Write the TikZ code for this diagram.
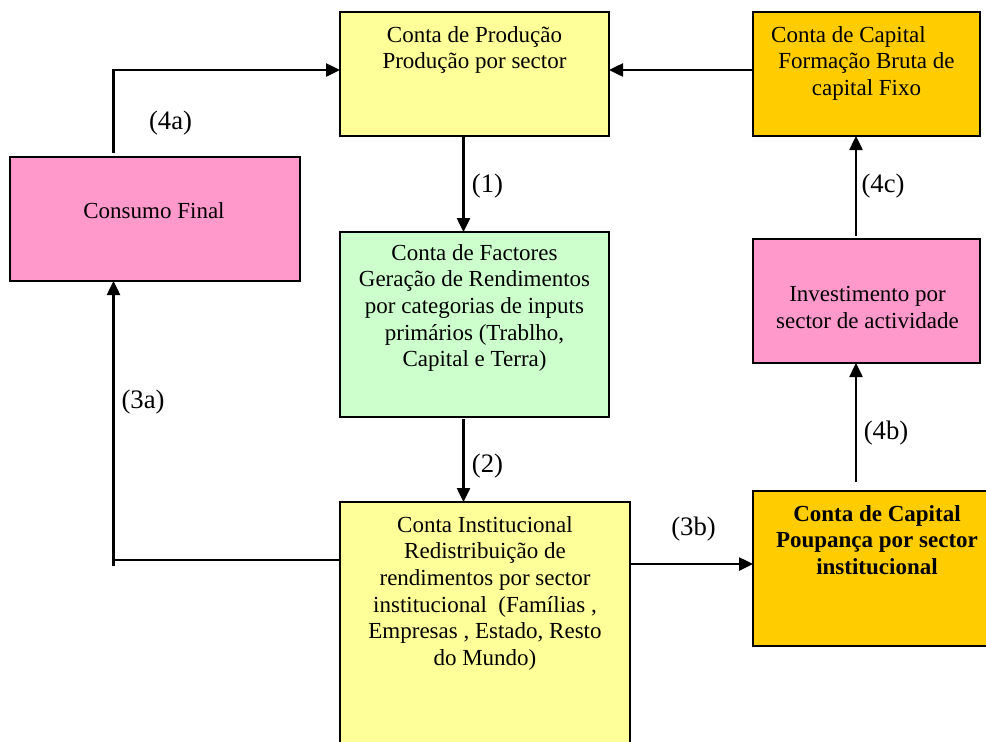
\documentclass[tikz,border=0pt]{standalone}
\usepackage{fontspec}
\setmainfont{Liberation Serif}
\usetikzlibrary{arrows.meta}
\definecolor{cyellow}{HTML}{FFFF99}
\definecolor{corange}{HTML}{FFCC00}
\definecolor{cpink}{HTML}{FF99CC}
\definecolor{cgreen}{HTML}{CCFFCC}
\tikzset{
  box/.style={draw, line width=1.6pt, inner sep=0pt, outer sep=0pt},
  boxtext/.style={anchor=north, align=center, inner sep=0pt, font={\fontsize{23}{26.7}\selectfont}},
  lbl/.style={inner sep=0pt, font={\fontsize{26.7}{30}\selectfont}},
  conn/.style={line width=2.5pt},
  arr/.style={conn, -{Triangle[length=14pt,width=13pt]}}
}
\begin{document}
\begin{tikzpicture}[x=1pt,y=-1pt]
\clip (0,0) rectangle (986,742);
\fill[white] (0,0) rectangle (986,742);
% boxes
\node[box, fill=cyellow, minimum width=269pt, minimum height=124pt] (prod) at (474.5,74) {};
\node[box, fill=corange, minimum width=227pt, minimum height=124pt] (cap) at (866.5,74) {};
\node[box, fill=cpink, minimum width=290pt, minimum height=124pt] (cons) at (155,219) {};
\node[box, fill=cgreen, minimum width=269pt, minimum height=185pt] (fact) at (474.5,324.5) {};
\node[box, fill=cpink, minimum width=227pt, minimum height=124pt] (inv) at (866.5,301) {};
\node[box, fill=cyellow, minimum width=290pt, minimum height=268pt] (inst) at (485,636) {};
\node[box, fill=corange, minimum width=248pt, minimum height=155pt] (poup) at (877,568.5) {};
% texts
\node[boxtext] (tprod) at (474.5,26) {Conta de Produção\\Produção por sector};
\node[boxtext] (tcap) at (866.5,26) {Conta de Capital\hspace*{36pt}\\Formação Bruta de\\capital Fixo};
\node[boxtext] (tcons) at (154,202) {Consumo Final};
\node[boxtext] (tfact) at (474.5,244) {Conta de Factores\\Geração de Rendimentos\\por categorias de inputs\\primários (Trablho,\\Capital e Terra)};
\node[boxtext] (tinv) at (867.5,286) {Investimento por\\sector de actividade};
\node[boxtext] (tinst) at (485,516) {Conta Institucional\\Redistribuição de\\rendimentos por sector\\institucional\ \ (Famílias ,\\Empresas , Estado, Resto\\do Mundo)};
\node[boxtext, font={\fontsize{23}{26.7}\selectfont\bfseries}] (tpoup) at (877,505) {Conta de Capital\\Poupança por sector\\institucional};
% helper coordinates
\coordinate (row1) at (0,70);
\coordinate (col1) at (463.5,0);
\coordinate (col2) at (856,0);
\coordinate (r3a) at (0,560);
\coordinate (r3b) at (0,564);
\coordinate (s4a) at (113.5,153);
\coordinate (c3a) at (113.5,560);
\coordinate (e3a) at (113.5,566);
\coordinate (s4b) at (856,482);
\coordinate (s4c) at (856,236);
% connectors
\draw[arr] (s4a) |- (prod.west |- row1);
\draw[arr] (cap.west |- row1) -- (prod.east |- row1);
\draw[arr] (prod.south -| col1) -- (fact.north -| col1);
\draw[arr] ([yshift=-2pt]fact.south -| col1) -- (inst.north -| col1);
\draw[arr] (s4c) -- (cap.south -| col2);
\draw[arr] (s4b) -- (inv.south -| col2);
\draw[arr] (inst.east |- r3b) -- (poup.west |- r3b);
\draw[conn] (inst.west |- r3a) -- (c3a);
\draw[arr] (e3a) -- (cons.south -| e3a);
% labels
\node[lbl] (l4a) at (170.5,123) {(4a)};
\node[lbl] (l1) at (487.5,186) {(1)};
\node[lbl] (l4c) at (883,186) {(4c)};
\node[lbl] (l3a) at (143,402.5) {(3a)};
\node[lbl] (l2) at (487.5,466) {(2)};
\node[lbl] (l3b) at (693.5,529) {(3b)};
\node[lbl] (l4b) at (886,433) {(4b)};
\end{tikzpicture}
\end{document}
